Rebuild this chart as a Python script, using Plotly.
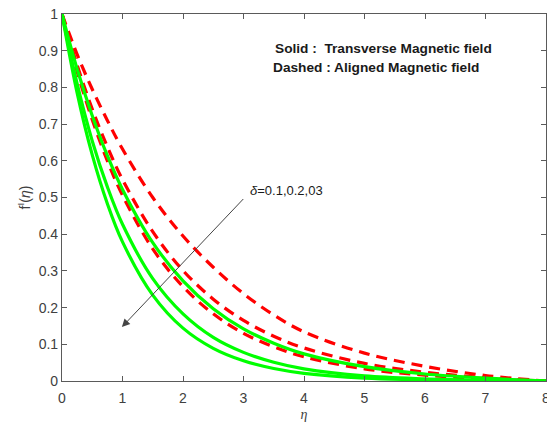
import plotly.graph_objects as go

# Similarity variable
eta = [0, 0.25, 0.5, 0.75, 1, 1.5, 2, 2.5, 3, 3.5, 4, 5, 6, 7, 8]

# Velocity profiles f'(eta), transverse magnetic field (solid)
f_trans_1 = [1, 0.785, 0.616, 0.483, 0.379, 0.234, 0.144, 0.089, 0.055, 0.034, 0.021, 0.008, 0.003, 0.001, 0]
f_trans_2 = [1, 0.810, 0.654, 0.529, 0.427, 0.279, 0.183, 0.119, 0.078, 0.051, 0.033, 0.014, 0.006, 0.002, 0]
f_trans_3 = [1, 0.850, 0.723, 0.614, 0.522, 0.377, 0.273, 0.197, 0.142, 0.103, 0.074, 0.039, 0.019, 0.008, 0]

# Velocity profiles f'(eta), aligned magnetic field (dashed)
f_align_1 = [1, 0.843, 0.712, 0.600, 0.506, 0.360, 0.257, 0.183, 0.130, 0.093, 0.066, 0.033, 0.016, 0.006, 0]
f_align_2 = [1, 0.861, 0.741, 0.638, 0.549, 0.407, 0.301, 0.223, 0.165, 0.122, 0.090, 0.048, 0.024, 0.009, 0]
f_align_3 = [1, 0.890, 0.795, 0.710, 0.632, 0.500, 0.395, 0.310, 0.238, 0.180, 0.134, 0.076, 0.040, 0.015, 0]

x_ticks = [0, 1, 2, 3, 4, 5, 6, 7, 8]
y_ticks = [0, 0.1, 0.2, 0.3, 0.4, 0.5, 0.6, 0.7, 0.8, 0.9, 1]

fig = go.Figure()

for ys in (f_align_1, f_align_2, f_align_3):
    fig.add_trace(go.Scatter(
        x=eta, y=ys, mode="lines", line_shape="spline",
        line=dict(color="#ff0000", width=3.2, dash="11px,7px"),
        showlegend=False, hoverinfo="skip"))

for ys in (f_trans_1, f_trans_2, f_trans_3):
    fig.add_trace(go.Scatter(
        x=eta, y=ys, mode="lines", line_shape="spline",
        line=dict(color="#00ff00", width=3.2),
        showlegend=False, hoverinfo="skip"))

tick_font = dict(family="Arial, Liberation Sans", size=14, color="#404040")
axis_common = dict(
    showgrid=False, zeroline=False, showline=True, mirror="ticks",
    linecolor="#5a5a5a", linewidth=1.2, ticks="inside", ticklen=5,
    tickcolor="#5a5a5a", tickfont=tick_font, ticklabeloverflow="allow",
    automargin=False,
)

fig.update_xaxes(range=[0, 8], tickvals=x_ticks, ticktext=[str(v) for v in x_ticks],
                 ticklabelstandoff=4,
                 title=dict(text="<i>η</i>", font=dict(family="Liberation Serif", size=14, color="#404040"), standoff=4),
                 **axis_common)
fig.update_yaxes(range=[0, 1], tickvals=y_ticks, ticktext=[f"{v:g}" for v in y_ticks],
                 title=dict(text="f<sup>I</sup>(<i>η</i>)", font=dict(family="Arial, Liberation Sans", size=14, color="#404040"), standoff=4),
                 **axis_common)

text_font = dict(family="Arial, Liberation Sans", size=13.7, color="#1a1a1a")
fig.add_annotation(x=0.435, y=0.905, xref="paper", yref="paper", xanchor="left", yanchor="middle",
                   text="<b>Solid :  Transverse Magnetic field</b>", showarrow=False, font=text_font)
fig.add_annotation(x=0.431, y=0.855, xref="paper", yref="paper", xanchor="left", yanchor="middle",
                   text="<b>Dashed : Aligned Magnetic field</b>", showarrow=False, font=text_font)

# Arrow indicating increasing delta
fig.add_annotation(x=0.99, y=0.147, ax=3.02, ay=0.50, xref="x", yref="y", axref="x", ayref="y",
                   text="", showarrow=True, arrowhead=2, arrowsize=1.6, arrowwidth=1, arrowcolor="#444444")
fig.add_annotation(x=3.08, y=0.52, xref="x", yref="y", xanchor="left", yanchor="middle",
                   text="<i>δ</i>=0.1,0.2,03", showarrow=False,
                   font=dict(family="Arial, Liberation Sans", size=13, color="#1a1a1a"))

fig.update_layout(
    width=547, height=431,
    margin=dict(l=62, r=1, t=14, b=50, autoexpand=False),
    plot_bgcolor="white", paper_bgcolor="white",
)

fig.write_html("out.html")
